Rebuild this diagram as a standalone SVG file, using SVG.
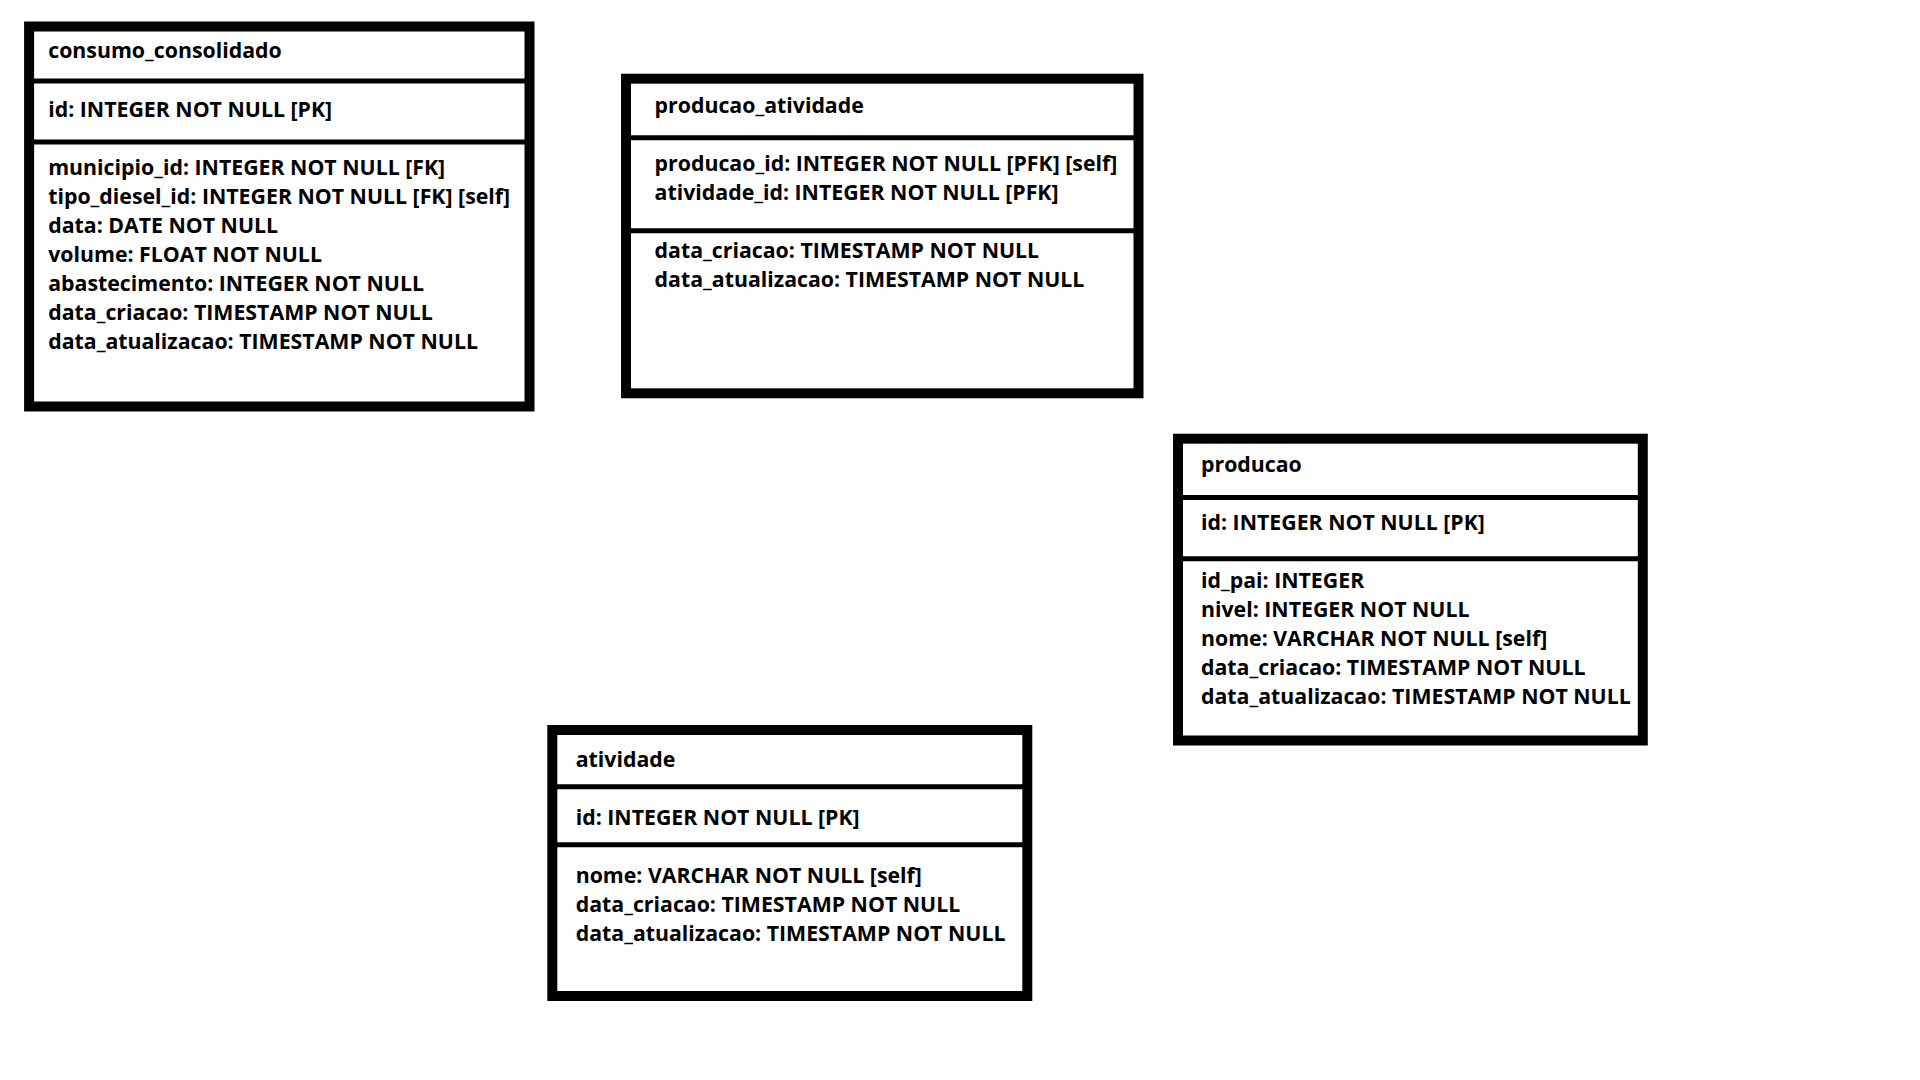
<svg xmlns="http://www.w3.org/2000/svg" width="1920" height="1080" viewBox="0 0 1920 1080">
<style>
.box{fill:#fff;stroke:#000;stroke-width:10}
.div{stroke:#000;stroke-width:5}
text{font-family:"Open Sans","Noto Sans","DejaVu Sans",sans-serif;font-weight:700;font-size:21.3px;fill:#000}
</style>
<rect width="1920" height="1080" fill="#fff"/>
<g id="consumo_consolidado">
<rect class="box" x="29.1" y="26.5" width="500.4" height="380"/>
<line class="div" x1="29.1" y1="81" x2="529.5" y2="81"/>
<line class="div" x1="29.1" y1="142" x2="529.5" y2="142"/>
<text x="48.2" y="58.3">consumo_consolidado</text>
<text x="48.2" y="117.3">id: INTEGER NOT NULL [PK]</text>
<text x="48.2" y="175">municipio_id: INTEGER NOT NULL [FK]</text>
<text x="48.2" y="204">tipo_diesel_id: INTEGER NOT NULL [FK] [self]</text>
<text x="48.2" y="233.1">data: DATE NOT NULL</text>
<text x="48.2" y="262.1">volume: FLOAT NOT NULL</text>
<text x="48.2" y="291.2">abastecimento: INTEGER NOT NULL</text>
<text x="48.2" y="320.2">data_criacao: TIMESTAMP NOT NULL</text>
<text x="48.2" y="349.3">data_atualizacao: TIMESTAMP NOT NULL</text>
</g>
<g id="producao_atividade">
<rect class="box" x="626" y="78.7" width="512.5" height="314.6"/>
<line class="div" x1="626" y1="137.7" x2="1138.5" y2="137.7"/>
<line class="div" x1="626" y1="230.8" x2="1138.5" y2="230.8"/>
<text x="654.6" y="113.3">producao_atividade</text>
<text x="654.6" y="171">producao_id: INTEGER NOT NULL [PFK] [self]</text>
<text x="654.6" y="200">atividade_id: INTEGER NOT NULL [PFK]</text>
<text x="654.6" y="257.7">data_criacao: TIMESTAMP NOT NULL</text>
<text x="654.6" y="286.7">data_atualizacao: TIMESTAMP NOT NULL</text>
</g>
<g id="producao">
<rect class="box" x="1178" y="438.7" width="464.8" height="301.8"/>
<line class="div" x1="1178" y1="497.5" x2="1642.8" y2="497.5"/>
<line class="div" x1="1178" y1="558.8" x2="1642.8" y2="558.8"/>
<text x="1201" y="472.3">producao</text>
<text x="1201" y="530">id: INTEGER NOT NULL [PK]</text>
<text x="1201" y="588.3">id_pai: INTEGER</text>
<text x="1201" y="617.3">nivel: INTEGER NOT NULL</text>
<text x="1201" y="646">nome: VARCHAR NOT NULL [self]</text>
<text x="1201" y="675">data_criacao: TIMESTAMP NOT NULL</text>
<text x="1201" y="704">data_atualizacao: TIMESTAMP NOT NULL</text>
</g>
<g id="atividade">
<rect class="box" x="552.3" y="730" width="475" height="266"/>
<line class="div" x1="552.3" y1="786.8" x2="1027.3" y2="786.8"/>
<line class="div" x1="552.3" y1="844.8" x2="1027.3" y2="844.8"/>
<text x="575.7" y="766.7">atividade</text>
<text x="575.7" y="825">id: INTEGER NOT NULL [PK]</text>
<text x="575.7" y="883.3">nome: VARCHAR NOT NULL [self]</text>
<text x="575.7" y="912.3">data_criacao: TIMESTAMP NOT NULL</text>
<text x="575.7" y="941">data_atualizacao: TIMESTAMP NOT NULL</text>
</g>
<g id="connectors"/>
</svg>
